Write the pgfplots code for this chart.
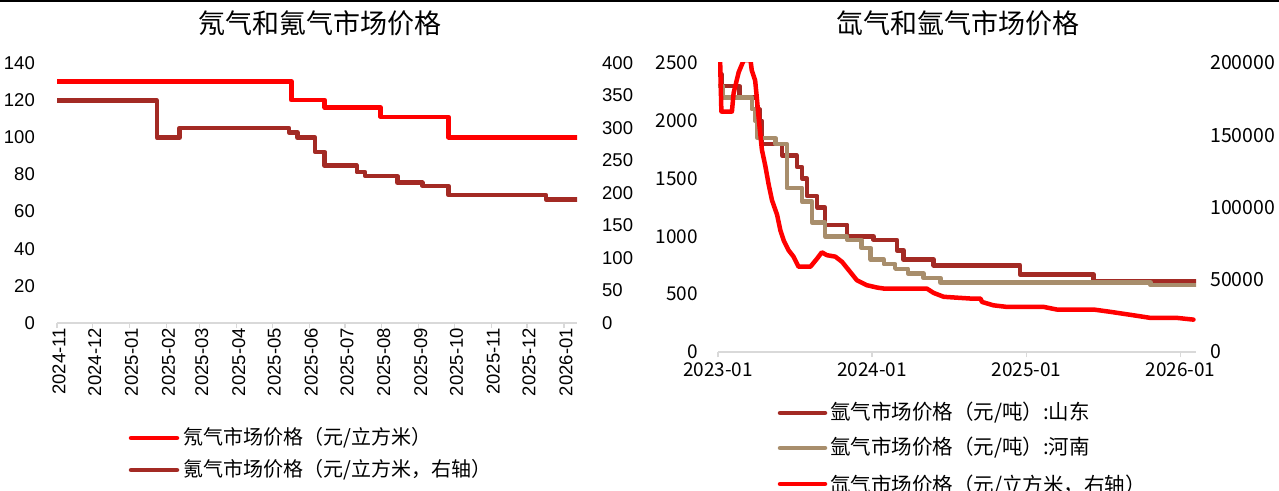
\documentclass[border=0pt]{standalone}
\usepackage{fontspec}
\setmainfont{Liberation Sans}
\newfontfamily\cjk{Noto Sans CJK SC}
\usepackage{pgfplots}
\pgfplotsset{compat=1.18}

\definecolor{neon}{RGB}{255,0,0}
\definecolor{kr}{RGB}{163,42,36}
\definecolor{artan}{RGB}{168,142,108}
\definecolor{axgray}{RGB}{217,217,217}

\pgfplotsset{
  panel/.style={
    scale only axis, anchor=south west,
    scaled x ticks=false, scaled y ticks=false,
    y axis line style={draw=none},
    ytick style={draw=none},
    x axis line style={axgray, line width=1.5pt},
    xtick style={axgray, line width=1.2pt},
    tick align=outside, major tick length=5pt,
  },
  series/.style={line width=4.5pt, line cap=round, line join=round},
}

\begin{document}
\begin{tikzpicture}
\path[use as bounding box] (0,0) rectangle (1279pt,490pt);
\clip (0,0) rectangle (1279pt,490pt);
\fill[black] (0,487.5pt) rectangle (1279pt,490pt);

% ---------- left panel: neon and krypton ----------
\node[font=\cjk\fontsize{27}{27}\selectfont] at (320pt,467pt) {氖气和氪气市场价格};

\begin{axis}[panel,
  at={(57pt,167pt)}, width=520pt, height=260pt,
  xmin=0, xmax=437, ymin=0, ymax=140,
  axis x line*=bottom, axis y line*=left,
  xtick={0,30,61,92,120,151,181,212,242,273,304,334,365,395,426},
  xticklabels={2024-11,2024-12,2025-01,2025-02,2025-03,2025-04,2025-05,2025-06,2025-07,2025-08,2025-09,2025-10,2025-11,2025-12,2026-01},
  xticklabel style={rotate=90, anchor=east, inner sep=0pt, yshift=-2pt, font=\fontsize{18.5}{18.5}\selectfont},
  ytick={0,20,40,60,80,100,120,140},
  yticklabels={0,20,40,60,80,100,120,140},
  yticklabel style={anchor=east, inner sep=0pt, xshift=-17pt, font=\fontsize{18.5}{18.5}\selectfont},
]
\addplot[series, neon, const plot] coordinates {
  (0,130) (197,120) (225,116) (272,111) (329,100) (437,100)
};
\end{axis}

\begin{axis}[panel,
  at={(57pt,167pt)}, width=520pt, height=260pt,
  xmin=0, xmax=437, ymin=0, ymax=400,
  axis x line=none, axis y line*=right,
  ytick={0,50,100,150,200,250,300,350,400},
  yticklabels={0,50,100,150,200,250,300,350,400},
  yticklabel style={anchor=west, inner sep=0pt, xshift=20pt, font=\fontsize{18.5}{18.5}\selectfont},
]
\addplot[series, kr, const plot] coordinates {
  (0,342) (84,285) (103,300) (195,293) (202,285) (217,263) (225,242)
  (252,232) (259,226) (286,216) (307,211) (329,197) (411,190) (437,190)
};
\end{axis}

\draw[neon, line width=4.5pt, line cap=round] (131pt,52pt) -- (177pt,52pt);
\node[anchor=west, inner sep=0pt, font=\cjk\fontsize{20}{20}\selectfont] at (183pt,52pt) {氖气市场价格（元/立方米）};
\draw[kr, line width=4.5pt, line cap=round] (131pt,20pt) -- (177pt,20pt);
\node[anchor=west, inner sep=0pt, font=\cjk\fontsize{20}{20}\selectfont] at (183pt,20pt) {氪气市场价格（元/立方米，右轴）};

% ---------- right panel: argon and xenon ----------
\node[font=\cjk\fontsize{27}{27}\selectfont] at (958pt,467pt) {氙气和氩气市场价格};

\begin{axis}[panel,
  at={(718pt,138pt)}, width=478pt, height=289pt,
  xmin=0, xmax=1133, ymin=0, ymax=2500,
  axis x line*=bottom, axis y line*=left,
  xtick={0,365,731,1096},
  xticklabels={2023-01,2024-01,2025-01,2026-01},
  xticklabel style={anchor=north, inner sep=0pt, yshift=-6pt, font=\cjk\fontsize{19}{19}\selectfont},
  ytick={0,500,1000,1500,2000,2500},
  yticklabels={0,500,1000,1500,2000,2500},
  yticklabel style={anchor=east, inner sep=0pt, xshift=-15pt, font=\cjk\fontsize{19}{19}\selectfont},
]
\addplot[series, kr, const plot] coordinates {
  (0,2400) (9,2300) (51,2200) (92,2100) (98,2000) (104,1800) (152,1700)
  (187,1600) (199,1500) (211,1350) (235,1250) (254,1100) (306,1000)
  (369,970) (424,880) (440,800) (511,750) (716,670) (890,615) (1133,615)
};
\addplot[series, artan, const plot] coordinates {
  (0,2300) (11,2200) (80,2100) (88,2000) (94,1850) (136,1800) (163,1420)
  (199,1300) (223,1120) (254,1000) (306,970) (340,900) (362,800)
  (393,760) (420,720) (450,680) (487,640) (527,600) (1025,580) (1133,580)
};
\end{axis}

\begin{axis}[panel,
  at={(718pt,138pt)}, width=478pt, height=289pt,
  xmin=0, xmax=1133, ymin=0, ymax=200000,
  axis x line=none, axis y line*=right,
  ytick={0,50000,100000,150000,200000},
  yticklabels={0,50000,100000,150000,200000},
  yticklabel style={anchor=west, inner sep=0pt, xshift=9pt, font=\cjk\fontsize{19.5}{19.5}\selectfont},
]
\addplot[series, neon] coordinates {
  (0,202000) (5,202000) (8,166400) (33,166400) (37,179200) (49,193600)
  (61,202000) (77,202000) (80,195000) (88,188000) (92,176000) (96,163000)
  (104,140000) (112,129000) (120,116000) (128,105000) (140,95000)
  (148,84000) (156,77000) (167,70500) (179,66000) (191,59000) (219,59000)
  (235,64700) (246,69000) (258,67000) (278,66000) (294,62400) (310,56600)
  (329,49700) (353,46200) (377,44600) (393,43900) (495,43900) (511,40900)
  (535,38200) (566,37600) (598,37000) (622,37000) (626,34600) (653,32300)
  (685,31200) (772,31200) (803,29400) (890,29400) (930,27800) (985,25400)
  (1025,23600) (1088,23600) (1127,22400)
};
\end{axis}

\draw[kr, line width=4.5pt, line cap=round] (780pt,77pt) -- (825pt,77pt);
\node[anchor=west, inner sep=0pt, font=\cjk\fontsize{20.5}{20.5}\selectfont] at (830pt,77pt) {氩气市场价格（元/吨）:山东};
\draw[artan, line width=4.5pt, line cap=round] (780pt,42pt) -- (825pt,42pt);
\node[anchor=west, inner sep=0pt, font=\cjk\fontsize{20.5}{20.5}\selectfont] at (830pt,42pt) {氩气市场价格（元/吨）:河南};
\draw[neon, line width=4.5pt, line cap=round] (780pt,6pt) -- (825pt,6pt);
\node[anchor=west, inner sep=0pt, font=\cjk\fontsize{20.5}{20.5}\selectfont] at (830pt,4pt) {氙气市场价格（元/立方米，右轴）};
\end{tikzpicture}
\end{document}
